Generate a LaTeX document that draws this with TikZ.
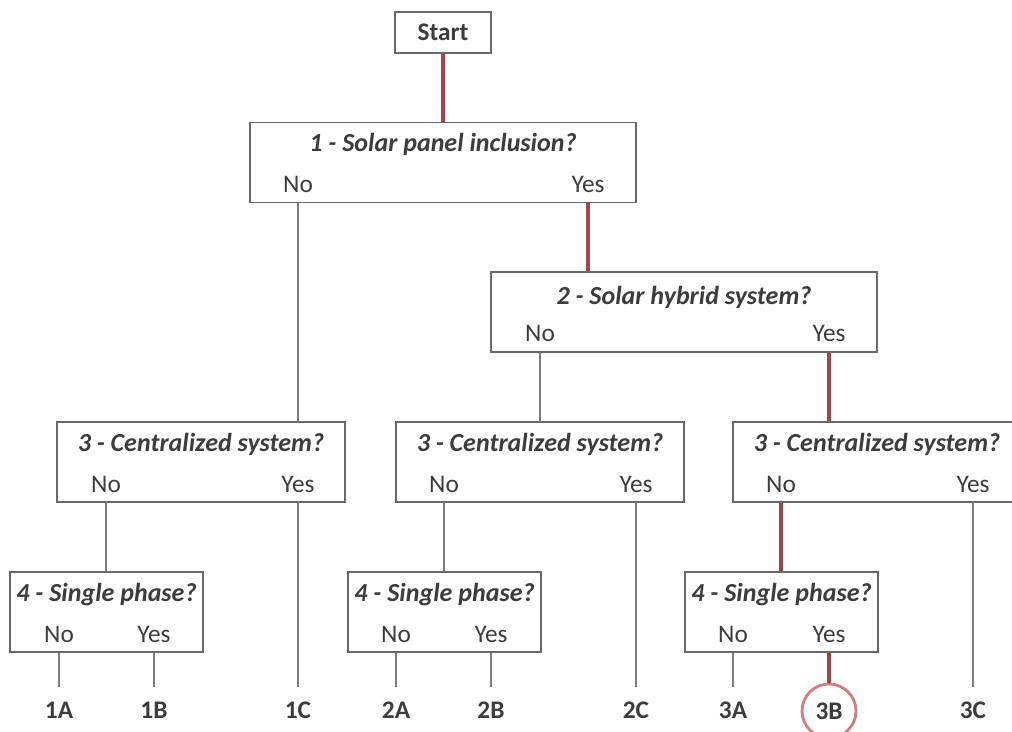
\documentclass[tikz,border=0pt]{standalone}
\usepackage{fontspec}
\setmainfont{Carlito}
\usetikzlibrary{positioning}
\definecolor{box-gray}{RGB}{105,105,105}
\definecolor{line-gray}{RGB}{125,125,125}
\definecolor{path-red}{RGB}{163,67,75}
\definecolor{ring-red}{RGB}{204,128,133}
\definecolor{txt-gray}{RGB}{60,60,60}

\begin{document}
\begin{tikzpicture}
    [x=0.025cm, y=-0.025cm,
    rect/.style = {rectangle, draw=box-gray, line width=0.9pt, minimum height=2cm},
    ttl/.style = {font=\fontsize{18.5}{22}\selectfont\bfseries\itshape, text=txt-gray, inner sep=0},
    ans/.style = {font=\fontsize{18}{22}\selectfont, text=txt-gray, inner sep=0},
    leaf/.style = {font=\fontsize{18}{22}\selectfont\bfseries, text=txt-gray, inner sep=0, minimum height=1.15cm},
    plain/.style = {draw=line-gray, line width=1pt},
    chosen/.style = {draw=path-red, line width=2.2pt},
    ]

\clip (0,0) rectangle (1012,731);

% start and question 1, 2
\node[rect, minimum width=2.4cm, minimum height=1.025cm, font=\fontsize{18}{22}\selectfont\bfseries, text=txt-gray] (start) at (443, 32.5) {Start};

\node[rect, minimum width=9.65cm] (q1) at (443, 162.5) {};
\node[ttl] (t1) at (443, 144) {1 - Solar panel inclusion?};
\node[ans] (q1no) at (298, 184) {No};
\node[ans] (q1yes) at (588, 184) {Yes};

\node[rect, minimum width=9.65cm] (q2) at (684, 312) {};
\node[ttl] (t2) at (684, 297) {2 - Solar hybrid system?};
\node[ans] (q2no) at (540, 333) {No};
\node[ans] (q2yes) at (829, 333) {Yes};

% question 3
\node[rect, minimum width=7.2cm] (q3a) at (201, 462) {};
\node[ttl] (t3a) at (201, 444) {3 - Centralized system?};
\node[ans] (q3ano) at (106, 484) {No};
\node[ans] (q3ayes) at (298, 484) {Yes};

\node[rect, minimum width=7.2cm] (q3b) at (540, 462) {};
\node[ttl] (t3b) at (540, 444) {3 - Centralized system?};
\node[ans] (q3bno) at (444, 484) {No};
\node[ans] (q3byes) at (636, 484) {Yes};

\node[rect, minimum width=7.2cm] (q3c) at (877, 462) {};
\node[ttl] (t3c) at (877, 444) {3 - Centralized system?};
\node[ans] (q3cno) at (781, 484) {No};
\node[ans] (q3cyes) at (973, 484) {Yes};

% question 4
\node[rect, minimum width=4.825cm] (q4a) at (106.5, 612) {};
\node[ttl] (t4a) at (106.5, 595) {4 - Single phase?};
\node[ans] (q4ano) at (59, 634) {No};
\node[ans] (q4ayes) at (154, 634) {Yes};

\node[rect, minimum width=4.825cm] (q4b) at (444.5, 612) {};
\node[ttl] (t4b) at (444.5, 595) {4 - Single phase?};
\node[ans] (q4bno) at (396, 634) {No};
\node[ans] (q4byes) at (491, 634) {Yes};

\node[rect, minimum width=4.825cm] (q4c) at (781.5, 612) {};
\node[ttl] (t4c) at (781.5, 595) {4 - Single phase?};
\node[ans] (q4cno) at (733, 634) {No};
\node[ans] (q4cyes) at (829, 634) {Yes};

% leaves
\node[leaf] (l1a) at (59, 710) {1A};
\node[leaf] (l1b) at (154, 710) {1B};
\node[leaf] (l1c) at (298, 710) {1C};
\node[leaf] (l2a) at (396, 710) {2A};
\node[leaf] (l2b) at (491, 710) {2B};
\node[leaf] (l2c) at (636, 710) {2C};
\node[leaf] (l3a) at (733, 710) {3A};
\node[leaf, circle, draw=ring-red, line width=2pt, minimum size=1.35cm] (l3b) at (829, 711) {3B};
\node[leaf] (l3c) at (973, 710) {3C};

% connectors
\draw[chosen] (start) -- (q1);
\draw[chosen] (q1yes |- q1.south) -- (q1yes |- q2.north);
\draw[plain] (q1no |- q1.south) -- (q1no |- q3a.north);
\draw[plain] (q2no |- q2.south) -- (q2no |- q3b.north);
\draw[chosen] (q2yes |- q2.south) -- (q2yes |- q3c.north);

\draw[plain] (q3ano |- q3a.south) -- (q3ano |- q4a.north);
\draw[plain] (q3bno |- q3b.south) -- (q3bno |- q4b.north);
\draw[chosen] (q3cno |- q3c.south) -- (q3cno |- q4c.north);
\draw[plain] (q3ayes |- q3a.south) -- (l1c);
\draw[plain] (q3byes |- q3b.south) -- (l2c);
\draw[plain] (q3cyes |- q3c.south) -- (l3c);

\draw[plain] (q4ano |- q4a.south) -- (l1a);
\draw[plain] (q4ayes |- q4a.south) -- (l1b);
\draw[plain] (q4bno |- q4b.south) -- (l2a);
\draw[plain] (q4byes |- q4b.south) -- (l2b);
\draw[plain] (q4cno |- q4c.south) -- (l3a);
\draw[chosen] (q4cyes |- q4c.south) -- (l3b);

\end{tikzpicture}
\end{document}
